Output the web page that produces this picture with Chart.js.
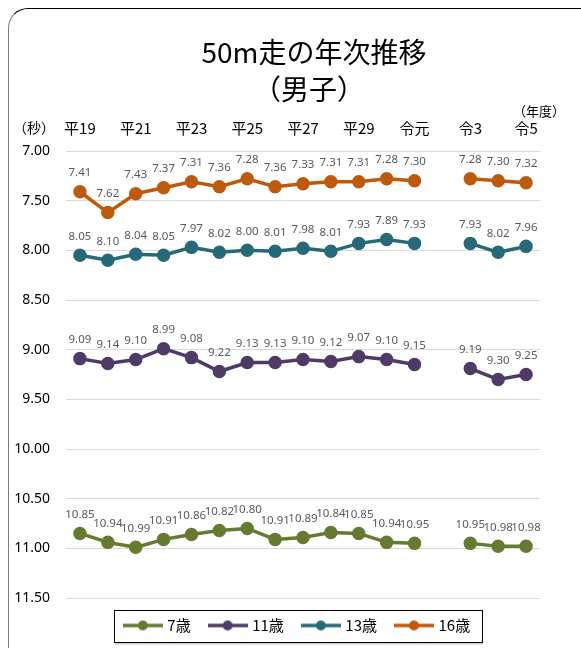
<!DOCTYPE html>
<html>
<head>
<meta charset="utf-8">
<script src="https://cdn.jsdelivr.net/npm/chart.js@4/dist/chart.umd.min.js"></script>
<style>
  html, body { margin: 0; padding: 0; background: #fff; overflow: hidden; }
  #frame {
    position: absolute; left: 8px; top: 8px; width: 600px; height: 660px;
    border: 1.5px solid #000; border-left-color: #7f7f7f; border-radius: 20px;
  }
  #wrap { position: absolute; left: 0; top: 0; width: 581px; height: 648px; }
</style>
</head>
<body>
<div id="frame"></div>
<div id="wrap"><canvas id="line_chart" width="581" height="648"></canvas></div>
<script>
// 年度（令2は未実施）
const categories = ['平19','平20','平21','平22','平23','平24','平25','平26','平27','平28','平29','平30','令元','令2','令3','令4','令5'];

const age7  = [10.85, 10.94, 10.99, 10.91, 10.86, 10.82, 10.80, 10.91, 10.89, 10.84, 10.85, 10.94, 10.95, null, 10.95, 10.98, 10.98];
const age11 = [9.09, 9.14, 9.10, 8.99, 9.08, 9.22, 9.13, 9.13, 9.10, 9.12, 9.07, 9.10, 9.15, null, 9.19, 9.30, 9.25];
const age13 = [8.05, 8.10, 8.04, 8.05, 7.97, 8.02, 8.00, 8.01, 7.98, 8.01, 7.93, 7.89, 7.93, null, 7.93, 8.02, 7.96];
const age16 = [7.41, 7.62, 7.43, 7.37, 7.31, 7.36, 7.28, 7.36, 7.33, 7.31, 7.31, 7.28, 7.30, null, 7.28, 7.30, 7.32];

const seriesNames = ['7歳', '11歳', '13歳', '16歳'];
const colors = ['#667a30', '#4e3b66', '#266a78', '#bf5a0c'];

const jp = '"Noto Sans CJK JP", "Noto Sans", sans-serif';

// 凡例用の線＋点
function legendIcon(color) {
    let c = document.createElement('canvas');
    c.width = 40; c.height = 14;
    let g = c.getContext('2d');
    g.strokeStyle = color;
    g.lineWidth = 3.5;
    g.beginPath(); g.moveTo(0, 7); g.lineTo(40, 7); g.stroke();
    g.fillStyle = color;
    g.beginPath(); g.arc(20, 7, 5, 0, Math.PI * 2); g.fill();
    return c;
}
const icons = colors.map(legendIcon);

function makeDataset(label, data, color) {
    return {
        label: label,
        data: data,
        borderColor: color,
        backgroundColor: color,
        pointBackgroundColor: color,
        pointBorderColor: color,
        pointStyle: 'circle',
        pointRadius: 5,
        pointHoverRadius: 5,
        borderWidth: 3.5,
        spanGaps: false
    };
}

const extras = {
    id: 'extras',
    afterDatasetsDraw(chart) {
        const ctx = chart.ctx;
        ctx.save();
        ctx.font = '11.5px "Noto Sans", sans-serif';
        ctx.fillStyle = '#595959';
        ctx.textAlign = 'center';
        ctx.textBaseline = 'middle';
        chart.data.datasets.forEach((ds, i) => {
            const meta = chart.getDatasetMeta(i);
            meta.data.forEach((pt, j) => {
                if (ds.data[j] === null) return;
                ctx.fillText(ds.data[j].toFixed(2), pt.x, pt.y - 19);
            });
        });
        ctx.restore();
    },
    afterDraw(chart) {
        const ctx = chart.ctx;
        ctx.save();
        ctx.fillStyle = '#000';
        ctx.textAlign = 'center';
        ctx.textBaseline = 'middle';
        ctx.font = '28px ' + jp;
        ctx.fillText('50m走の年次推移', 314, 52);
        ctx.fillText('（男子）', 309, 89);
        ctx.font = '14px ' + jp;
        ctx.textAlign = 'left';
        ctx.fillText('（秒）', 13, 128);
        ctx.font = '13px ' + jp;
        ctx.fillText('（年度）', 513, 111);

        // 凡例の枠
        const boxes = chart.legend.legendHitBoxes;
        if (boxes && boxes.length) {
            const first = boxes[0], last = boxes[boxes.length - 1];
            const cy = first.top + first.height / 2;
            const x0 = first.left - 12, x1 = last.left + last.width + 12;
            ctx.fillStyle = '#d0d0d0';
            ctx.fillRect(x0 + 1, cy + 17, x1 - x0, 2);
            ctx.strokeStyle = '#000';
            ctx.lineWidth = 1;
            ctx.strokeRect(Math.round(x0) + 0.5, Math.round(cy - 16) + 0.5, Math.round(x1 - x0), 32);
        }
        ctx.restore();
    }
};

new Chart(document.getElementById('line_chart').getContext('2d'), {
    type: 'line',
    data: {
        labels: categories,
        datasets: [
            makeDataset(seriesNames[0], age7, colors[0]),
            makeDataset(seriesNames[1], age11, colors[1]),
            makeDataset(seriesNames[2], age13, colors[2]),
            makeDataset(seriesNames[3], age16, colors[3])
        ]
    },
    options: {
        responsive: false,
        animation: false,
        layout: { padding: { left: 15, right: 0, top: 100, bottom: 5 } },
        plugins: {
            title: { display: false },
            tooltip: { enabled: false },
            legend: {
                position: 'bottom',
                labels: {
                    usePointStyle: true,
                    pointStyleWidth: 34,
                    padding: 20,
                    color: '#000',
                    font: { family: jp, size: 15 },
                    generateLabels: function (chart) {
                        const items = Chart.defaults.plugins.legend.labels.generateLabels(chart);
                        items.forEach((it, i) => { it.pointStyle = icons[i]; });
                        return items;
                    }
                }
            }
        },
        scales: {
            x: {
                position: 'top',
                offset: true,
                grid: { display: false, drawTicks: false },
                border: { display: false },
                ticks: {
                    autoSkip: false,
                    maxRotation: 0,
                    padding: 14,
                    color: '#000',
                    font: { family: jp, size: 15 },
                    callback: function (v, i) { return i % 2 === 0 ? categories[i] : ''; }
                },
                afterFit: function (s) { s.height = 51; }
            },
            y: {
                reverse: true,
                min: 7,
                max: 11.5,
                grid: { color: '#d9d9d9', lineWidth: 1, drawTicks: false },
                border: { display: false },
                ticks: {
                    stepSize: 0.5,
                    padding: 16,
                    color: '#000',
                    font: { family: '"Noto Sans", sans-serif', size: 14 },
                    callback: function (v) { return Number(v).toFixed(2); }
                },
                afterFit: function (s) { s.width = 51; }
            },
            y2: {
                position: 'right',
                display: true,
                grid: { display: false, drawTicks: false },
                border: { display: false },
                ticks: { display: false },
                afterFit: function (s) { s.width = 41; }
            }
        }
    },
    plugins: [extras]
});
</script>
</body>
</html>
